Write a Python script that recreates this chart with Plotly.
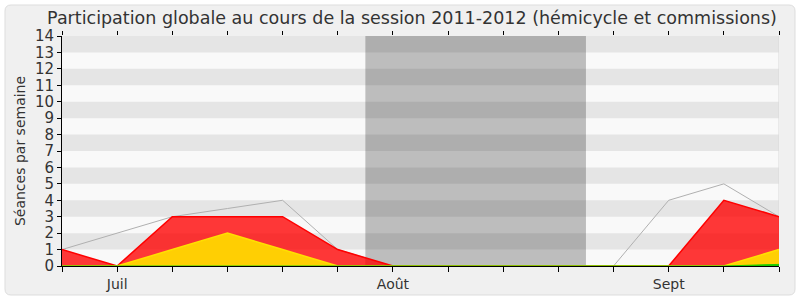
import plotly.graph_objects as go

weeks = list(range(14))
tick_labels = ["", "Juil", "", "", "", "", "Août", "", "", "", "", "Sept", "", ""]
presences = [1, 0, 3, 3, 3, 1, 0, 0, 0, 0, 0, 0, 4, 3]
interventions = [0, 0, 1, 2, 1, 0, 0, 0, 0, 0, 0, 0, 0, 1]
questions = [0, 0, 0, 0, 0, 0, 0, 0, 0, 0, 0, 0, 0, 0.1]
mediane = [1, 2, 3, 3.5, 4, 1, 0, 0, 0, 0, 0, 4, 5, 3]
vacances = [5.5, 9.5]
y_max = 14

# plot area in pixels (for the decorative frame)
L, R, T, B = 62, 779, 36, 266
W, H = 800, 300

def px_x(p):
    return (p - L) / (R - L)

def px_y(p):
    return (B - p) / (B - T)

fig = go.Figure()

fig.add_trace(go.Scatter(x=weeks, y=mediane, mode="lines",
                         line=dict(color="#b0b0b0", width=1), hoverinfo="skip",
                         showlegend=False))
fig.add_trace(go.Scatter(x=weeks, y=presences, mode="lines", fill="tozeroy",
                         fillcolor="rgba(255,0,0,0.78)",
                         line=dict(color="#ff0000", width=1.5), showlegend=False))
fig.add_trace(go.Scatter(x=weeks, y=interventions, mode="lines", fill="tozeroy",
                         fillcolor="rgba(255,215,0,0.95)",
                         line=dict(color="#ffe000", width=1.5), showlegend=False))
fig.add_trace(go.Scatter(x=weeks, y=questions, mode="lines", fill="tozeroy",
                         fillcolor="rgba(0,200,0,0.9)",
                         line=dict(color="#22cc00", width=1), showlegend=False))

shapes = []
# outer rounded frame
x0, x1, y0, y1, r = 5, 795, 5, 295, 6
path = (f"M {px_x(x0+r)} {px_y(y0)} L {px_x(x1-r)} {px_y(y0)} "
        f"Q {px_x(x1)} {px_y(y0)} {px_x(x1)} {px_y(y0+r)} "
        f"L {px_x(x1)} {px_y(y1-r)} Q {px_x(x1)} {px_y(y1)} {px_x(x1-r)} {px_y(y1)} "
        f"L {px_x(x0+r)} {px_y(y1)} Q {px_x(x0)} {px_y(y1)} {px_x(x0)} {px_y(y1-r)} "
        f"L {px_x(x0)} {px_y(y0+r)} Q {px_x(x0)} {px_y(y0)} {px_x(x0+r)} {px_y(y0)} Z")
shapes.append(dict(type="path", path=path, xref="paper", yref="paper",
                   fillcolor="#f0f0f0", line=dict(color="#dddddd", width=1),
                   layer="below"))
# plot background
shapes.append(dict(type="rect", xref="x", yref="y", x0=0, x1=13, y0=0, y1=y_max,
                   fillcolor="#f9f9f9", line=dict(width=0), layer="below"))
for k in range(1, y_max, 2):
    shapes.append(dict(type="rect", xref="x", yref="y", x0=0, x1=13, y0=k, y1=k + 1,
                       fillcolor="#e5e5e5", line=dict(width=0), layer="below"))
shapes.append(dict(type="rect", xref="x", yref="y", x0=vacances[0], x1=vacances[1],
                   y0=0, y1=y_max, fillcolor="rgba(0,0,0,0.24)",
                   line=dict(width=0), layer="below"))
shapes.append(dict(type="line", xref="x", yref="y", x0=13, x1=13, y0=0, y1=y_max,
                   line=dict(color="#d8d8d8", width=1), layer="below"))

fig.update_layout(
    width=W, height=H,
    margin=dict(l=L, r=W - R, t=T, b=H - B, autoexpand=False),
    paper_bgcolor="white", plot_bgcolor="rgba(0,0,0,0)",
    font=dict(family="DejaVu Sans", color="#333333", size=13),
    title=dict(text="Participation globale au cours de la session 2011-2012 (hémicycle et commissions)",
               x=412 / W, xanchor="center", y=1 - 18 / H, yanchor="middle",
               font=dict(size=17.5, color="#333333")),
    shapes=shapes,
    xaxis=dict(range=[0, 13], tickvals=weeks, ticktext=tick_labels, tickmode="array",
               showgrid=False, zeroline=False, showline=True, linecolor="black",
               linewidth=1, ticks="outside", ticklen=5, tickcolor="black",
               automargin=False, tickfont=dict(size=14, color="#333333")),
    xaxis2=dict(range=[0, 13], overlaying="x", side="top", tickvals=weeks,
                tickmode="array", showticklabels=False, showgrid=False,
                zeroline=False, showline=False, ticks="outside", ticklen=4,
                automargin=False, tickcolor="black"),
    yaxis=dict(range=[0, y_max], dtick=1, tick0=0, showgrid=False, zeroline=False,
               showline=True, linecolor="black", linewidth=1, ticks="outside",
               ticklen=4, tickcolor="black", tickfont=dict(size=15, color="#333333"),
               automargin=False,
               title=dict(text="Séances par semaine", font=dict(size=14, color="#333333"),
                          standoff=6)),
)
fig.add_trace(go.Scatter(x=[0], y=[0], xaxis="x2", mode="markers",
                         marker=dict(opacity=0), hoverinfo="skip", showlegend=False))

fig.write_html("out.html")
